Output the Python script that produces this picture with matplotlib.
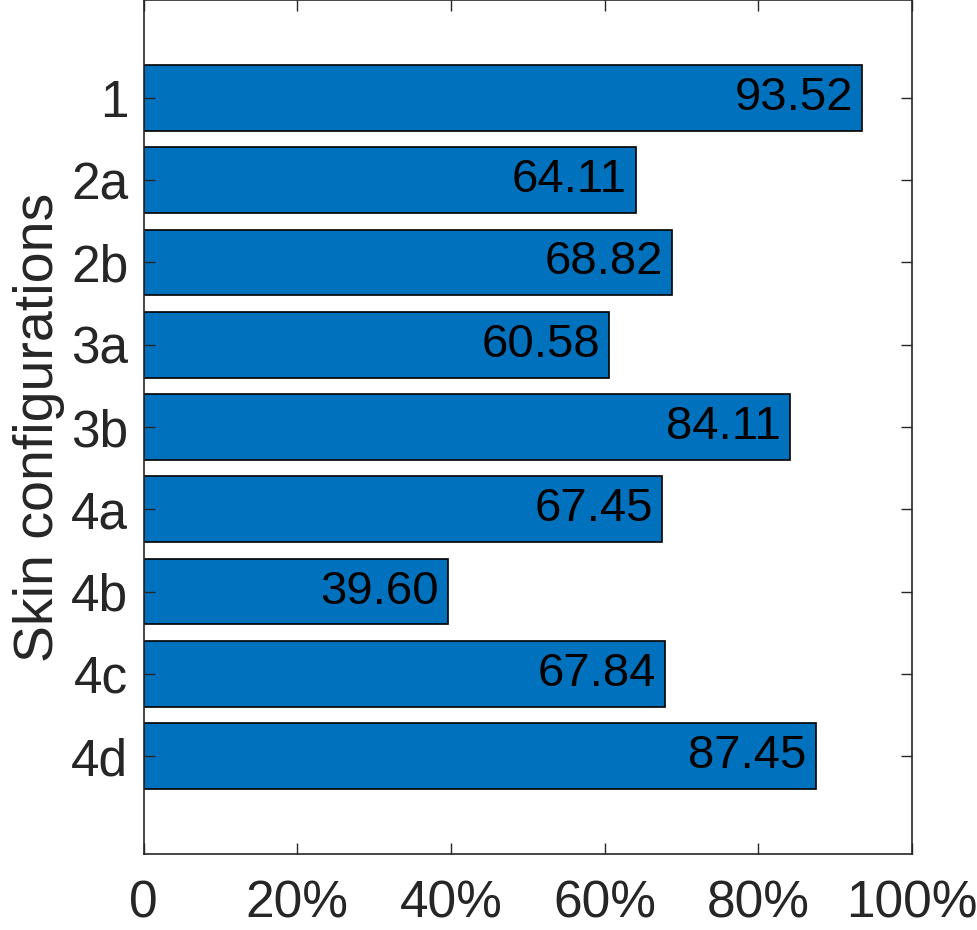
import matplotlib.pyplot as plt
import numpy as np

plt.rcParams['font.family'] = ['Liberation Sans', 'DejaVu Sans']

configs = ['1', '2a', '2b', '3a', '3b', '4a', '4b', '4c', '4d']
valores = [93.52, 64.11, 68.82, 60.58, 84.11, 67.45, 39.60, 67.84, 87.45]
xticks = [0, 0.2, 0.4, 0.6, 0.8, 1.0]
xtick_labels = ['0', '20%', '40%', '60%', '80%', '100%']

gris = '#262626'

fig = plt.figure(figsize=(9.77, 9.30), dpi=100)
ax = fig.add_axes([0.1469, 0.0817, 0.9335 - 0.1469, 0.9183])

pos = np.arange(1, len(configs) + 1)
frac = np.array(valores) / 100
ax.barh(pos, frac, height=0.8, color='#0072BD', edgecolor='black', linewidth=1.2)

# etiquetas dentro de cada barra
for p, f, v in zip(pos, frac, valores):
    ax.text(f - 0.012, p, f"{v:.2f}", ha='right', va='center', fontsize=34, color='black')

ax.set_xlim(0, 1)
ax.set_ylim(10.19, -0.19)
ax.set_yticks(pos)
ax.set_yticklabels(configs)
ax.set_xticks(xticks)
ax.set_xticklabels(xtick_labels)
ax.tick_params(axis='both', direction='in', length=8, width=1, color=gris,
               labelsize=37, labelcolor=gris, top=True, right=True)
ax.tick_params(axis='x', pad=18)
ax.tick_params(axis='y', pad=11)
for s in ax.spines.values():
    s.set_color(gris)
    s.set_linewidth(1.2)

ax.set_ylabel('Skin configurations', fontsize=40, color=gris, labelpad=4)

fig.savefig('out.png', dpi=100)
